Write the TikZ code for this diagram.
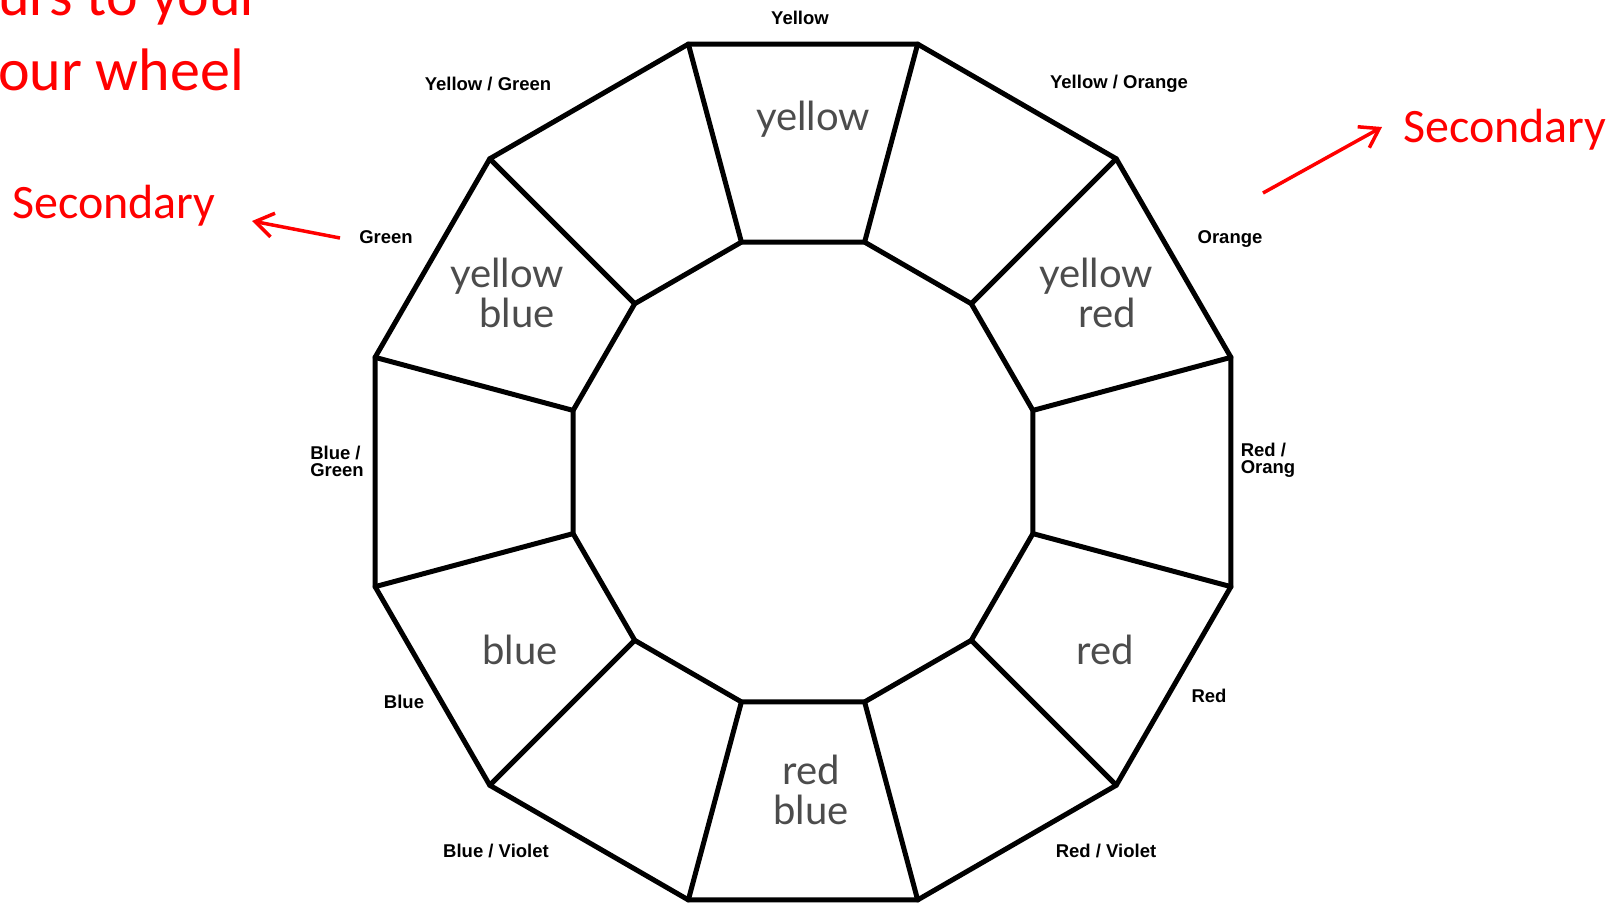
\documentclass[tikz,border=0pt]{standalone}
\usepackage{fontspec}
\setmainfont{Liberation Sans}
\newfontfamily\calib{Carlito}
\newfontfamily\hand{Lato}
\usetikzlibrary{arrows.meta}
\begin{document}
\begin{tikzpicture}[x=1pt,y=-1pt,
  wheel/.style={line width=5pt, line join=round, line cap=round},
  lbl/.style={font=\fontsize{18.5}{17}\selectfont\bfseries, inner sep=0pt, align=left},
  hw/.style={font=\hand\fontsize{40}{44}\selectfont, text=black!70, inner sep=0pt, align=center},
  redtxt/.style={text=red, inner sep=0pt, anchor=base west},
  redarrow/.style={draw=red, line width=3.5pt, -{Straight Barb[length=18pt, width=24pt, line width=3.5pt]}}
]
\useasboundingbox (0,0) rectangle (1624,914);
\fill[white] (0,0) rectangle (1624,914);
\coordinate (C) at (803,472);
\foreach \k in {0,...,11} {
  \pgfmathsetmacro\a{15+30*\k}
  \coordinate (o\k) at ([shift={(\a:443)}]C);
  \coordinate (n\k) at ([shift={(\a:238)}]C);
}
\draw[wheel] (o0) \foreach \k in {1,...,11}{-- (o\k)} -- cycle;
\draw[wheel] (n0) \foreach \k in {1,...,11}{-- (n\k)} -- cycle;
\foreach \k in {0,...,11} \draw[wheel] (o\k) -- (n\k);

% printed labels
\node[lbl] (lY) at (800,18) {Yellow};
\node[lbl] (lYG) at (488,84) {Yellow / Green};
\node[lbl] (lYO) at (1119,84) {Yellow / Orange};
\node[lbl] (lG) at (386,237) {Green};
\node[lbl] (lO) at (1230,239) {Orange};
\node[lbl] (lBG) at (337,461) {Blue /\\Green};
\node[lbl] (lRO) at (1268,460) {Red /\\Orang};
\node[lbl] (lR) at (1209,696) {Red};
\node[lbl] (lB) at (404,702) {Blue};
\node[lbl] (lBV) at (496,851) {Blue / Violet};
\node[lbl] (lRV) at (1106,851) {Red / Violet};

% handwriting
\node[hw] (hY) at (813,119) {yellow};
\node[hw] (hYB) at (507,293) {yellow\\[-4pt]\hspace*{20pt}blue};
\node[hw] (hYR) at (1096,293) {yellow\\[-4pt]\hspace*{22pt}red};
\node[hw] (hB) at (520,650) {blue};
\node[hw] (hR) at (1105,650) {red};
\node[hw] (hRB) at (811,790) {red\\[-4pt]blue};

% red annotations
\node[redtxt, anchor=base east, font=\calib\fontsize{60}{72}\selectfont] (t1) at (262,15) {urs to your};
\node[redtxt, anchor=base east, font=\calib\fontsize{60}{72}\selectfont] (t2) at (244,90) {our wheel};
\node[redtxt, font=\calib\fontsize{48}{58}\selectfont] (s1) at (12,218) {Secondary};
\node[redtxt, font=\calib\fontsize{48}{58}\selectfont] (s2) at (1403,142) {Secondary};
\coordinate (a1tail) at (340,238);
\coordinate (a1tip) at (252,221);
\coordinate (a2tail) at (1263,193);
\coordinate (a2tip) at (1382,127);
\draw[redarrow] (a1tail) -- (a1tip);
\draw[redarrow] (a2tail) -- (a2tip);
\end{tikzpicture}
\end{document}
